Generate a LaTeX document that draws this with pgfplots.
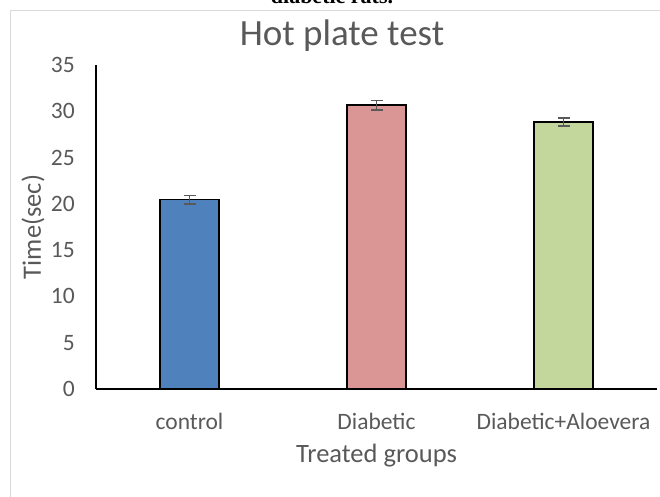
\documentclass[border=0pt]{standalone}
\usepackage{pgfplots}
\pgfplotsset{compat=1.18}
\usepackage{fontspec}
\setmainfont{Carlito}
\newfontfamily\serifbody{Liberation Serif}
\definecolor{txt}{HTML}{595959}
\definecolor{frame}{HTML}{D9D9D9}
\definecolor{cblue}{HTML}{4F81BD}
\definecolor{cred}{HTML}{D99694}
\definecolor{cgreen}{HTML}{C3D69B}
\begin{document}
\begin{tikzpicture}
\useasboundingbox (0pt,0pt) rectangle (660pt,496pt);
\draw[frame, line width=1.6pt] (10.5pt,485.5pt) rectangle (680pt,-20pt);
\node[anchor=base, font=\serifbody\bfseries\fontsize{22}{26}\selectfont, inner sep=0pt] at (332pt,492.5pt) {diabetic rats.};
\begin{axis}[
  at={(96pt,107pt)}, anchor=south west,
  scale only axis, width=561pt, height=324pt,
  xmin=-0.5, xmax=2.5, ymin=0, ymax=35,
  axis x line=bottom, axis y line=left,
  axis line style={-, black, line width=1.3pt},
  major tick length=0pt,
  xtick={0,1,2}, xticklabels={control,Diabetic,Diabetic+Aloevera},
  ytick={0,5,10,15,20,25,30,35},
  tick label style={font=\fontsize{23.5}{27}\selectfont, text=txt},
  /pgf/number format/assume math mode=true,
  yticklabel style={anchor=east, inner sep=0pt, xshift=-21pt},
  xticklabel style={anchor=base, inner sep=0pt, yshift=-40pt},
  xlabel={Treated groups}, ylabel={Time(sec)},
  every axis x label/.style={at={(axis description cs:0.5,0)}, anchor=base, yshift=-73pt, font=\fontsize{26.5}{30}\selectfont, text=txt},
  every axis y label/.style={at={(axis description cs:0,0.5)}, anchor=center, rotate=90, yshift=63pt, font=\fontsize{26.5}{30}\selectfont, text=txt},
  title={Hot plate test},
  title style={font=\fontsize{37}{42}\selectfont, text=txt, at={(axis description cs:0.4385,1)}, anchor=center, yshift=23pt},
  ybar, bar width=59pt, bar shift=0pt,
  clip=false,
]
\addplot[fill=cblue, draw=black, line width=1.6pt,
  error bars/.cd, y dir=both, y explicit,
  error bar style={txt, line width=1.4pt},
  error mark options={mark=-, mark size=6pt, txt, line width=1.4pt, rotate=90}]
  coordinates {(0,20.45) +- (0,0.45)};
\addplot[fill=cred, draw=black, line width=1.6pt,
  error bars/.cd, y dir=both, y explicit,
  error bar style={txt, line width=1.4pt},
  error mark options={mark=-, mark size=6pt, txt, line width=1.4pt, rotate=90}]
  coordinates {(1,30.65) +- (0,0.52)};
\addplot[fill=cgreen, draw=black, line width=1.6pt,
  error bars/.cd, y dir=both, y explicit,
  error bar style={txt, line width=1.4pt},
  error mark options={mark=-, mark size=6pt, txt, line width=1.4pt, rotate=90}]
  coordinates {(2,28.85) +- (0,0.42)};
\end{axis}
\end{tikzpicture}
\end{document}
